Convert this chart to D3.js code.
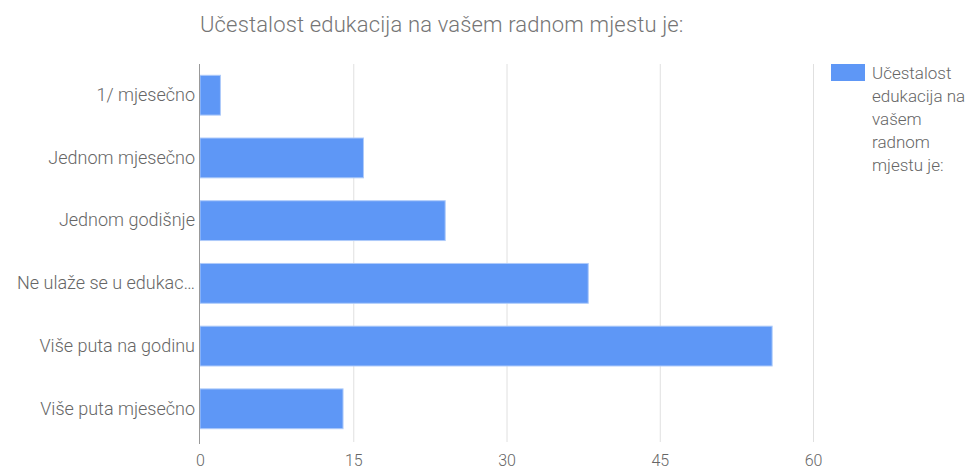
<!DOCTYPE html>
<html>
<head>
<meta charset="utf-8">
<script src="https://cdn.jsdelivr.net/npm/d3@7"></script>
<style>
  body { margin: 0; background: #fff; }
  text { font-family: Roboto, "Liberation Sans", Arial, sans-serif; font-weight: 300; }
</style>
</head>
<body>
<div class="chart"></div>
<script>
var categories = ['1/ mjesečno', 'Jednom mjesečno', 'Jednom godišnje', 'Ne ulaže se u edukac…', 'Više puta na godinu', 'Više puta mjesečno'];
var values = [2, 16, 24, 38, 56, 14];
var tickValues = [0, 15, 30, 45, 60];
var title = 'Učestalost edukacija na vašem radnom mjestu je:';
var legendLines = ['Učestalost', 'edukacija na', 'vašem', 'radnom', 'mjestu je:'];

var margin = { top: 64, right: 161, bottom: 28, left: 200 };
var width = 974 - margin.left - margin.right;
var height = 470 - margin.top - margin.bottom;

var svg = d3.select('.chart')
  .append('svg')
    .attr('width', 974)
    .attr('height', 470);

var g = svg.append('g')
    .attr('transform', `translate(${margin.left}, ${margin.top})`);

// scales
const xScale = d3.scaleLinear()
  .domain([0, 60])
  .range([0, width]);

const yScale = d3.scaleBand()
  .domain(categories)
  .range([0, height - 2])
  .paddingInner(0.365)
  .paddingOuter(0.18);

// grid
g.selectAll('.grid')
  .data(tickValues.slice(1))
  .enter().append('line')
    .attr('x1', d => xScale(d) + 0.5)
    .attr('x2', d => xScale(d) + 0.5)
    .attr('y1', 0)
    .attr('y2', height)
    .style('stroke', '#e0e0e0');

// bars
g.selectAll('.bar')
  .data(values)
  .enter().append('rect')
    .attr('x', xScale(0))
    .attr('y', (d, i) => yScale(categories[i]))
    .attr('width', d => xScale(d))
    .attr('height', yScale.bandwidth())
    .style('fill', '#5e97f6')
    .style('stroke', '#aecbfa')
    .style('stroke-width', 1);

// x axis
const xAxis = d3.axisBottom(xScale)
  .tickValues(tickValues)
  .tickSize(0)
  .tickPadding(13);

g.append('g')
    .attr('transform', `translate(0, ${height})`)
    .call(xAxis)
    .call(a => a.select('.domain').remove())
    .selectAll('text')
      .style('font-size', '16px')
      .style('fill', '#666');

// y axis
const yAxis = d3.axisLeft(yScale)
  .tickSize(0)
  .tickPadding(5);

g.append('g')
    .call(yAxis)
    .call(a => a.select('.domain').remove())
    .selectAll('text')
      .style('font-size', '18px')
      .style('fill', '#666');

g.selectAll('.tick text').attr('font-family', null);

g.append('line')
  .attr('x1', -0.5).attr('x2', -0.5)
  .attr('y1', 0).attr('y2', height + 2)
  .style('stroke', '#999');

// title
svg.append('text')
  .attr('x', 200)
  .attr('y', 32)
  .style('font-size', '22px')
  .style('letter-spacing', '0.15px')
  .style('fill', '#757575')
  .text(title);

// legend
var legend = svg.append('g')
  .attr('transform', 'translate(831, 64)');

legend.append('rect')
  .attr('width', 34)
  .attr('height', 17)
  .style('fill', '#5e97f6');

legend.append('text')
  .attr('x', 41)
  .attr('y', 15)
  .style('font-size', '17px')
  .style('fill', '#666')
  .selectAll('tspan')
  .data(legendLines)
  .enter().append('tspan')
    .attr('x', 41)
    .attr('dy', (d, i) => i === 0 ? 0 : 23)
    .text(d => d);
</script>
</body>
</html>
